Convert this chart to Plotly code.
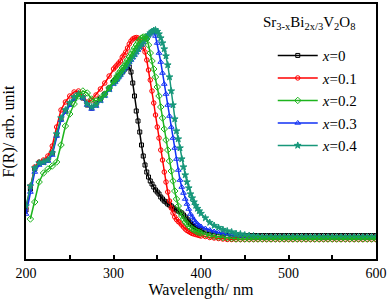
import plotly.graph_objects as go

# Wavelength sampling (nm)
WAVELENGTH = list(range(200, 301, 5)) + list(range(302, 399, 2)) + list(range(400, 601, 5))

X0 = [49, 70, 90, 96, 97, 99, 106, 124, 140, 148, 155, 161, 165, 161, 154, 151, 155, 160, 165, 171, 177,
      179, 181, 183, 185, 187, 189, 191, 192, 192, 187, 176, 163, 148, 138, 127, 114, 103, 94, 87, 82,
      78, 75, 72, 69, 67, 65, 62, 60, 58, 57, 55, 54, 53, 51, 50, 49, 48, 47, 46, 44,
      42, 40, 38, 36, 34, 32.5, 31.5, 30.5, 29.5,
      29, 27, 26, 25, 24.5, 24, 23.5, 23.5, 23.5, 23.5, 23.5, 23.5, 23.5, 23.5, 23.5, 23.5,
      23.5, 23.5, 23.5, 23.5, 23.5, 23.5, 23.5, 23.5, 23.5, 23.5, 23.5, 23.5, 23.5, 23.5, 23.5,
      23.5, 23.5, 23.5, 23.5, 23.5, 23.5, 23.5, 23.5, 23.5, 23.5]

X01 = [51, 73, 92, 97, 99, 103, 113, 132, 149, 157, 163, 167, 168, 162, 157, 159, 164, 170, 176, 183, 190,
       192, 194, 196, 198, 202, 204, 207, 211, 215, 218, 220, 221, 221.5, 221, 219, 215, 211, 207, 199, 189,
       179, 168, 156, 144, 132, 121, 109, 99, 87, 77, 67, 58, 51, 46, 42, 39.5, 37.5, 36, 34, 32,
       30, 28.5, 27.5, 26.5, 25.5, 25, 24.5, 24, 23.5,
       23, 22.5, 21.5, 21, 20.5, 20, 19.5, 19.5, 19.5, 19.5, 19.5, 19.5, 19.5, 19.5, 19.5, 19.5,
       19.5, 19.5, 19.5, 19.5, 19.5, 19.5, 19.5, 19.5, 19.5, 19.5, 19.5, 19.5, 19.5, 19.5, 19.5,
       19.5, 19.5, 19.5, 19.5, 19.5, 19.5, 19.5, 19.5, 19.5, 19.5]

X02 = [None, 40, 57, 77, 86, 90, 93, 97, 114, 133, 145, 155, 163, 168, 166, 160, 158, 161, 165, 171, 178,
       180, 183, 186, 188, 191, 193, 196, 199, 202, 205, 208, 211, 214, 217, 219, 221, 222, 222, 220, 214,
       206, 198, 190, 182, 172, 163, 152, 141, 130, 119, 109, 98, 88, 78, 68, 60, 53, 47, 43, 40,
       37, 35, 33, 31.5, 30, 29, 28, 27, 26.5,
       26, 24.5, 23.5, 22.5, 22, 21.5, 21, 20.5, 20, 20, 20, 20, 20, 20, 20, 20,
       20, 20, 20, 20, 20, 20, 20, 20, 20, 20, 20, 20, 20, 20, 20,
       20, 20, 20, 20, 20, 20, 20, 20, 20, 20]

X03 = [45, 67, 87, 94, 96, 98, 104, 123, 139, 147, 154, 160, 164, 161, 154, 150, 153, 158, 163, 169, 175,
       177, 179.5, 182, 184, 187, 190, 192, 194.5, 197, 199, 201.5, 204, 206.5, 209, 211.5, 214, 216.5, 219, 221.5, 224,
       226, 227, 226.5, 223, 216, 206, 197, 186, 175, 165, 154, 143, 132, 121, 111, 100, 89, 79, 72, 66,
       60, 55, 50, 45, 42, 39, 37, 35, 33.5,
       32.5, 30.5, 29, 27.5, 26.5, 25.5, 24.5, 24, 23.5, 23, 22.5, 22, 21.5, 21.5, 21.5, 21.5,
       21.5, 21.5, 21.5, 21.5, 21.5, 21.5, 21.5, 21.5, 21.5, 21.5, 21.5, 21.5, 21.5, 21.5, 21.5,
       21.5, 21.5, 21.5, 21.5, 21.5, 21.5, 21.5, 21.5, 21.5, 21.5]

X04 = [53, 73, 91, 96, 97, 99, 106, 125, 141, 149, 156, 162, 165, 162, 155, 152, 154, 159, 164, 170, 176,
       178, 180, 182.5, 185, 187.5, 190, 192.5, 195, 197.5, 200, 202.5, 205, 207.5, 210, 212.5, 215, 217.5, 220, 222, 224,
       226, 227.5, 228.5, 229, 227.5, 225, 221, 216, 210, 203, 194, 182, 168, 154, 140, 128, 120, 111, 100, 92,
       84, 77, 71, 65, 61, 57, 53.5, 50.5, 48,
       45.5, 41, 36.5, 33.5, 31.5, 29.5, 28, 27, 25.5, 25, 24, 23.5, 23, 22.5, 22, 22,
       22, 22, 22, 22, 22, 22, 22, 22, 22, 22, 22, 22, 22, 22, 22,
       22, 22, 22, 22, 22, 22, 22, 22, 22, 22]

LABELS = ["<i>x</i>=0", "<i>x</i>=0.1", "<i>x</i>=0.2", "<i>x</i>=0.3", "<i>x</i>=0.4"]
SERIES = [X0, X01, X02, X03, X04]
COLORS = ["#000000", "#FF0000", "#1DB41D", "#1030F5", "#17977A"]
SYMBOLS = ["square-open", "circle-open", "diamond-open", "triangle-up-open", "star"]
SIZES = [4, 4.5, 5, 5, 5]
DRAW_ORDER = [0, 1, 3, 4, 2]

FONT = "Liberation Serif, Times New Roman, serif"

fig = go.Figure()
for i in DRAW_ORDER:
    fig.add_trace(go.Scatter(
        x=WAVELENGTH, y=SERIES[i], name=LABELS[i], mode="lines+markers",
        line=dict(color=COLORS[i], width=1.5),
        marker=dict(symbol=SYMBOLS[i], size=SIZES[i], color=COLORS[i],
                    line=dict(color=COLORS[i], width=1)),
        legendrank=i + 1, connectgaps=False,
    ))

fig.add_annotation(
    text="Sr<sub>3-x</sub>Bi<sub>2x/3</sub>V<sub>2</sub>O<sub>8</sub>",
    xref="paper", yref="paper", x=0.809, y=0.925, showarrow=False,
    font=dict(family=FONT, size=15, color="black"), xanchor="center", yanchor="middle",
)

fig.update_layout(
    width=391, height=303,
    margin=dict(l=26, r=15, t=4, b=44, autoexpand=False),
    paper_bgcolor="white", plot_bgcolor="white",
    font=dict(family=FONT, size=14, color="black"),
    showlegend=True,
    legend=dict(x=0.705, y=0.862, xanchor="left", yanchor="top",
                font=dict(family=FONT, size=15), bgcolor="rgba(0,0,0,0)",
                borderwidth=0, tracegroupgap=0, itemwidth=40),
    xaxis=dict(range=[200, 600], tickvals=[200, 300, 400, 500, 600], automargin=False,
               ticks="inside", ticklen=4, tickwidth=2, tickcolor="black",
               minor=dict(tickvals=[250, 350, 450, 550], ticks="inside", ticklen=4,
                          tickwidth=2, tickcolor="black"),
               showline=True, linewidth=2, linecolor="black", mirror=True,
               showgrid=False, zeroline=False,
               tickfont=dict(family=FONT, size=14),
               title=dict(text="Wavelength/ nm", font=dict(family=FONT, size=16), standoff=4)),
    yaxis=dict(range=[0, 255], showticklabels=False, ticks="", automargin=False,
               showline=True, linewidth=2, linecolor="black", mirror=True,
               showgrid=False, zeroline=False,
               title=dict(text="F(R)/ arb. unit", font=dict(family=FONT, size=16), standoff=6)),
)

fig.write_html("out.html", config={"displayModeBar": False},
               post_script="document.body.style.margin='0';document.body.style.padding='0';")
